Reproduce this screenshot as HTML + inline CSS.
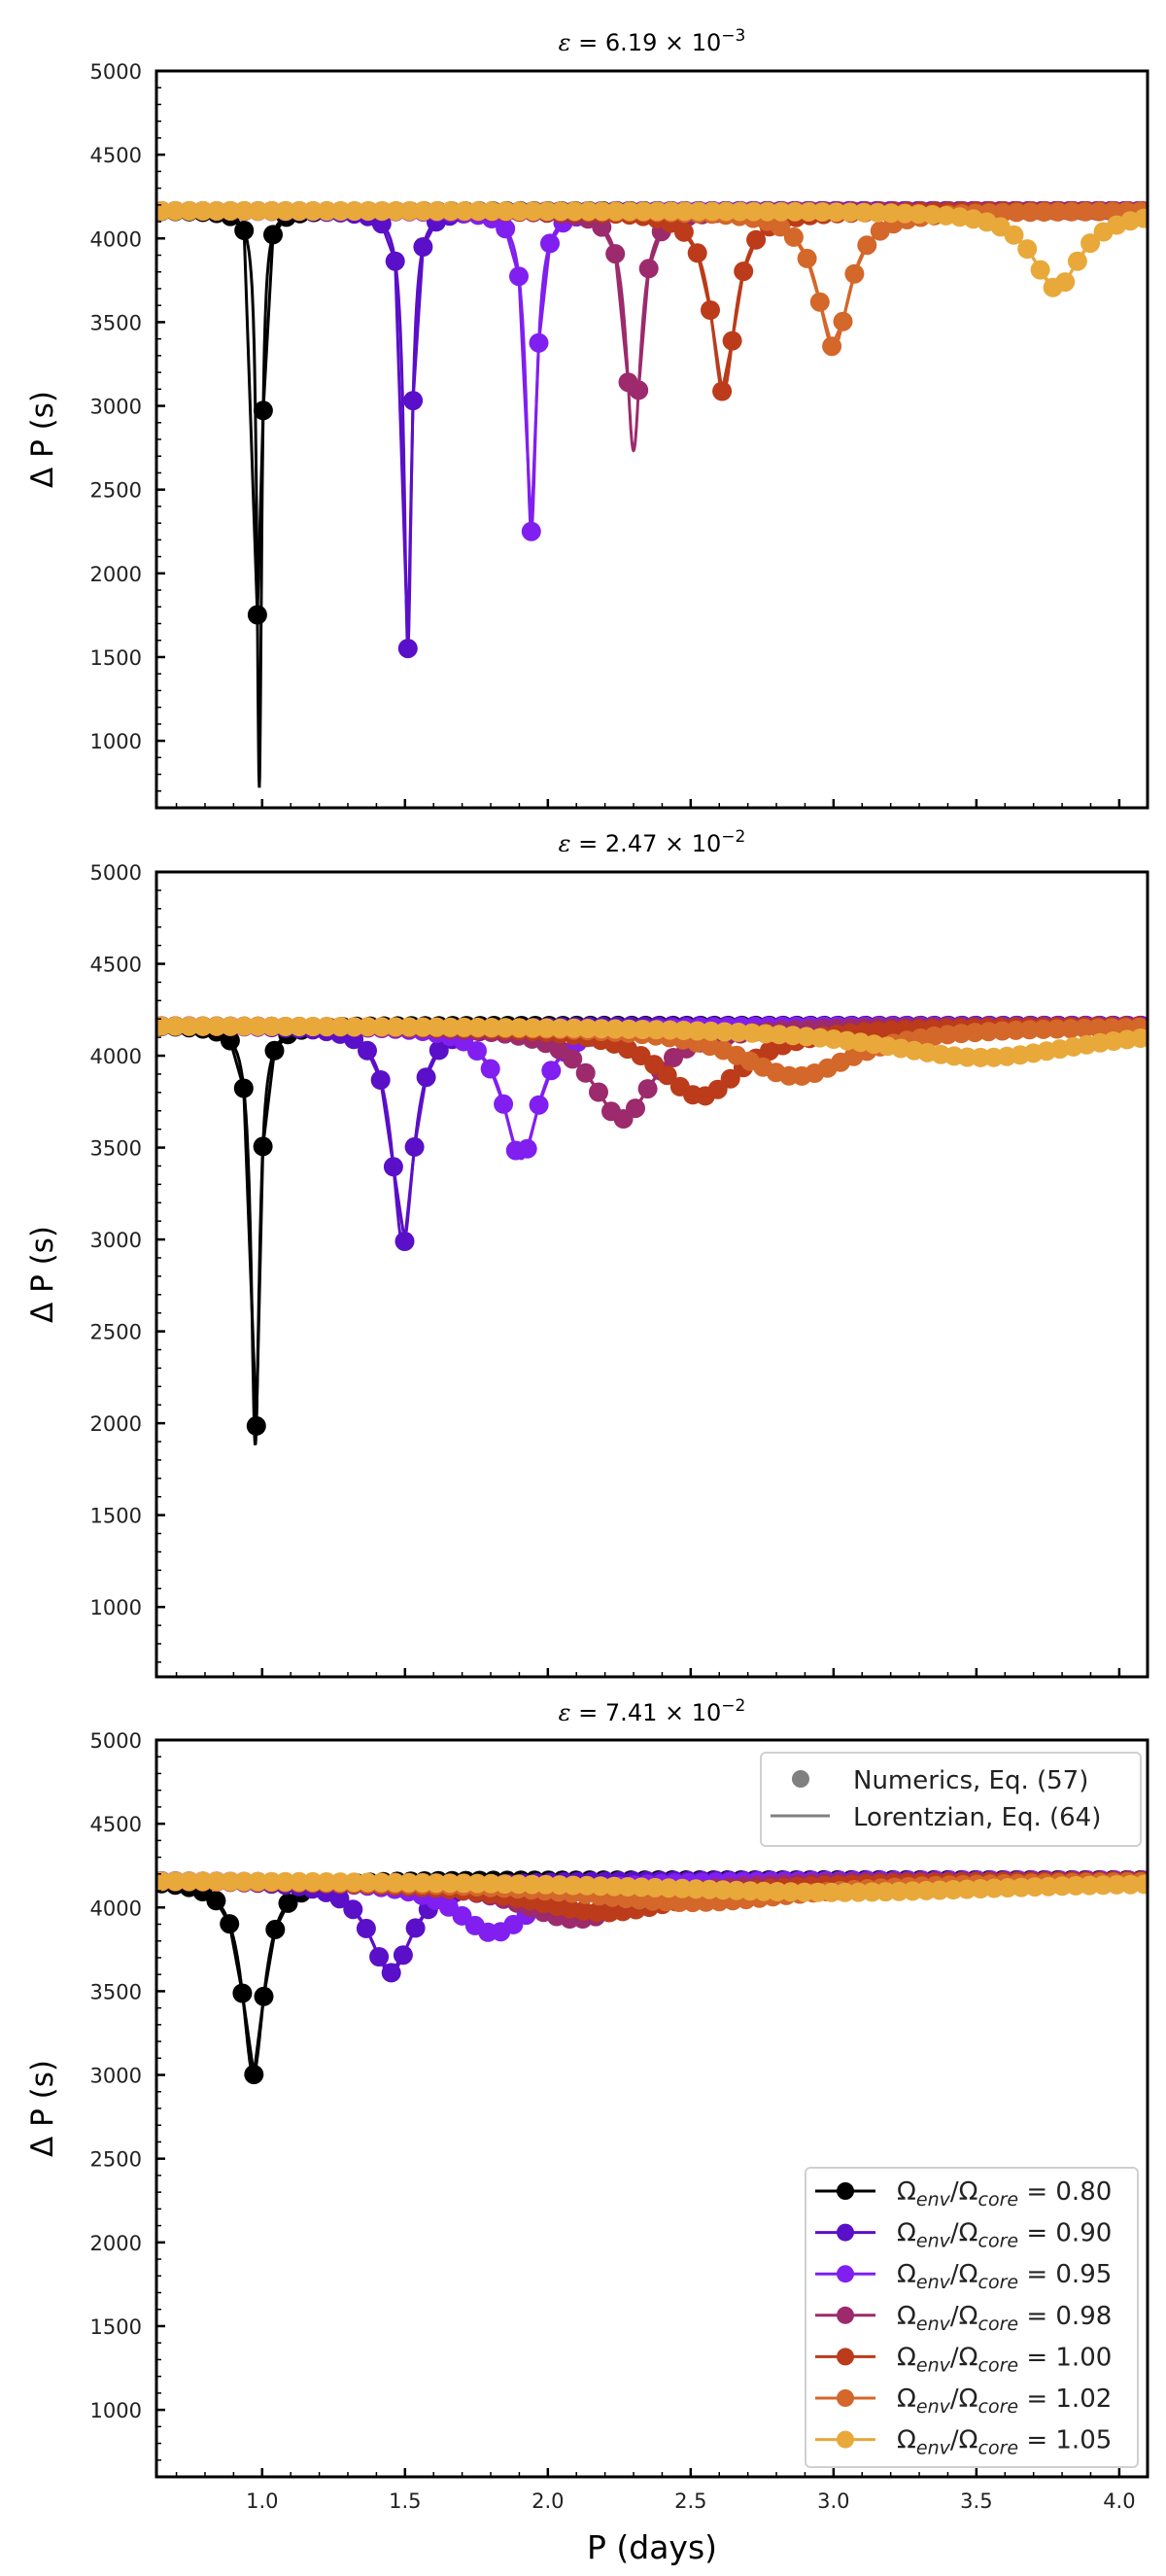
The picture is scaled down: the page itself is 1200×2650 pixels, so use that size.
<!DOCTYPE html>
<html><head><meta charset="utf-8">
<style>
html,body{margin:0;padding:0;background:#fff;}
svg{display:block;font-family:"DejaVu Sans","Liberation Sans",sans-serif;}
</style></head>
<body>
<svg id="fig" width="1200" height="2650" viewBox="0 0 1200 2650" xmlns="http://www.w3.org/2000/svg"></svg>
<script>
// ---- data ----
const ratioLabels = ["0.80","0.90","0.95","0.98","1.00","1.02","1.05"];
const seriesColors = ["#000000","#5a0fc8","#801ff0","#9c2a6c","#bb3b1a","#d4672a","#e8a83a"];
const epsMantissa = ["6.19","2.47","7.41"];
const epsExponent = ["−3","−2","−2"];
const baseline = 4165;
// dip centres (days), dip minima (s), half widths (days) per panel, per series
const dipCenter1 = [0.990, 1.510, 1.942, 2.300, 2.614, 3.000, 3.780];
const dipMin1    = [720, 1550, 2250, 2733, 3080, 3350, 3700];
const dipWidth1  = [0.010, 0.016, 0.022, 0.030, 0.050, 0.068, 0.100];
const dipCenter2 = [0.976, 1.493, 1.907, 2.260, 2.535, 2.870, 3.520];
const dipMin2    = [1880, 2970, 3440, 3656, 3778, 3888, 3990];
const dipWidth2  = [0.017, 0.045, 0.075, 0.130, 0.180, 0.250, 0.450];
const dipCenter3 = [0.969, 1.450, 1.810, 2.100, 2.200, 2.500, 3.000];
const dipMin3    = [3000, 3610, 3847, 3930, 3970, 4030, 4090];
const dipWidth3  = [0.045, 0.090, 0.160, 0.250, 0.350, 0.500, 0.800];
const yTicks = [1000,1500,2000,2500,3000,3500,4000,4500,5000];
const xTicks = [1.0,1.5,2.0,2.5,3.0,3.5,4.0];

const panels = [
  {top:73, bottom:831, ymin:600, ymax:5000, c:dipCenter1, m:dipMin1, w:dipWidth1, titleY:52},
  {top:897, bottom:1725, ymin:620, ymax:5000, c:dipCenter2, m:dipMin2, w:dipWidth2, titleY:876},
  {top:1790, bottom:2548, ymin:600, ymax:5000, c:dipCenter3, m:dipMin3, w:dipWidth3, titleY:1770}
];
const L=161, R=1181, XMIN=0.630, XMAX=4.099;
const NS="http://www.w3.org/2000/svg";
const svg=document.getElementById('fig');
function mk(tag,attrs,parent){const e=document.createElementNS(NS,tag);for(const k in attrs)e.setAttribute(k,attrs[k]);(parent||svg).appendChild(e);return e;}
const sx=p=>L+(p-XMIN)/(XMAX-XMIN)*(R-L);

panels.forEach((pn,pi)=>{
  const sy=v=>pn.bottom-(v-pn.ymin)/(pn.ymax-pn.ymin)*(pn.bottom-pn.top);
  const g=mk('g',{});
  
  
  const cp=mk('clipPath',{id:'clip'+pi},g);
  mk('rect',{x:L,y:pn.top,width:R-L,height:pn.bottom-pn.top},cp);
  const t=mk('text',{x:671,y:pn.titleY,'text-anchor':'middle','font-size':'24'},g);
  
  
  t.innerHTML='<tspan font-family="DejaVu Serif,serif" font-style="italic">ε</tspan> = '+epsMantissa[pi]+' × 10<tspan dy="-10" font-size="17">'+epsExponent[pi]+'</tspan>';
  const plot=mk('g',{'clip-path':'url(#clip'+pi+')'},g);
  
  
  const model=(s,p)=>{const u=(p-pn.c[s])/pn.w[s];return baseline-(baseline-pn.m[s])/(1+u*u);};
  for(let s=0;s<7;s++){
    const pts=[];let p=XMIN-0.03;
    while(p<XMAX+0.05){pts.push([p,model(s,p)]);p+=model(s,p)/86400;}
    const sg=mk('g',{},plot);
    
    
    const line=mk('polyline',{points:pts.map(q=>sx(q[0]).toFixed(1)+','+sy(q[1]).toFixed(1)).join(' '),fill:'none',stroke:seriesColors[s],'stroke-width':3},sg);
    
    
    pts.forEach(q=>{const c=mk('circle',{cx:sx(q[0]).toFixed(1),cy:sy(q[1]).toFixed(1),r:10,fill:seriesColors[s]},sg);
      
      });
    const cv=[];for(let x=XMIN;x<=XMAX;x+=0.0015)cv.push(sx(x).toFixed(1)+','+sy(model(s,x)).toFixed(1));
    const lz=mk('polyline',{points:cv.join(' '),fill:'none',stroke:seriesColors[s],'stroke-width':3},sg);
    
    
  }
  const fr=mk('rect',{x:L,y:pn.top,width:R-L,height:pn.bottom-pn.top,fill:'none',stroke:'#000','stroke-width':3},g);
  
  
  for(let v=700;v<=5000;v+=100){if(v<pn.ymin)continue;const y=sy(v);const maj=v%500===0;
    mk('line',{x1:L,x2:L+(maj?9:5),y1:y,y2:y,stroke:'#000','stroke-width':maj?2.5:1.5},g);}
  yTicks.forEach(v=>{const tl=mk('text',{x:146,y:sy(v)+8,'text-anchor':'end','font-size':'21',fill:'#222'},g);
    
    
    tl.textContent=v;});
  for(let k=7;k<=40;k++){const p=k/10;const x=sx(p);const maj=k%5===0;
    mk('line',{x1:x,x2:x,y1:pn.bottom,y2:pn.bottom-(maj?9:5),stroke:'#000','stroke-width':maj?2.5:1.5},g);}
  if(pi===2){xTicks.forEach(p=>{const tl=mk('text',{x:sx(p),y:2580,'text-anchor':'middle','font-size':'21',fill:'#222'},g);
    
    
    tl.textContent=p.toFixed(1);});}
  const cy=(pn.top+pn.bottom)/2;
  const yt=mk('text',{x:0,y:0,transform:'translate(54,'+cy+') rotate(-90)','text-anchor':'middle','font-size':'31'},g);
  
  
  yt.textContent='Δ P (s)';
});
const xt=mk('text',{x:671,y:2632,'text-anchor':'middle','font-size':'33'});


xt.textContent='P (days)';

const lg1=mk('g',{});


mk('rect',{x:783,y:1803,width:391,height:96,rx:5,fill:'#fff',stroke:'#d0d0d0','stroke-width':2},lg1);
mk('circle',{cx:824,cy:1830,r:9,fill:'#808080'},lg1);
mk('line',{x1:793,x2:854,y1:1868,y2:1868,stroke:'#808080','stroke-width':3},lg1);
const a1=mk('text',{x:878,y:1840,'font-size':'26',fill:'#222'},lg1);


a1.textContent='Numerics, Eq. (57)';
const a2=mk('text',{x:878,y:1878,'font-size':'26',fill:'#222'},lg1);


a2.textContent='Lorentzian, Eq. (64)';

const lg2=mk('g',{});


mk('rect',{x:829,y:2230,width:342,height:308,rx:5,fill:'#fff',stroke:'#d0d0d0','stroke-width':2},lg2);
ratioLabels.forEach((lab,i)=>{const y=2254+i*42.6;
  mk('line',{x1:839,x2:901,y1:y,y2:y,stroke:seriesColors[i],'stroke-width':3},lg2);
  mk('circle',{cx:870,cy:y,r:9,fill:seriesColors[i]},lg2);
  const tx=mk('text',{x:923,y:y+9,'font-size':'26',fill:'#222'},lg2);
  
  
  tx.innerHTML='Ω<tspan font-style="italic" font-size="19" dy="6">env</tspan><tspan dy="-6">/Ω</tspan><tspan font-style="italic" font-size="19" dy="6">core</tspan><tspan dy="-6"> = '+lab+'</tspan>';
});
</script>
</body></html>
